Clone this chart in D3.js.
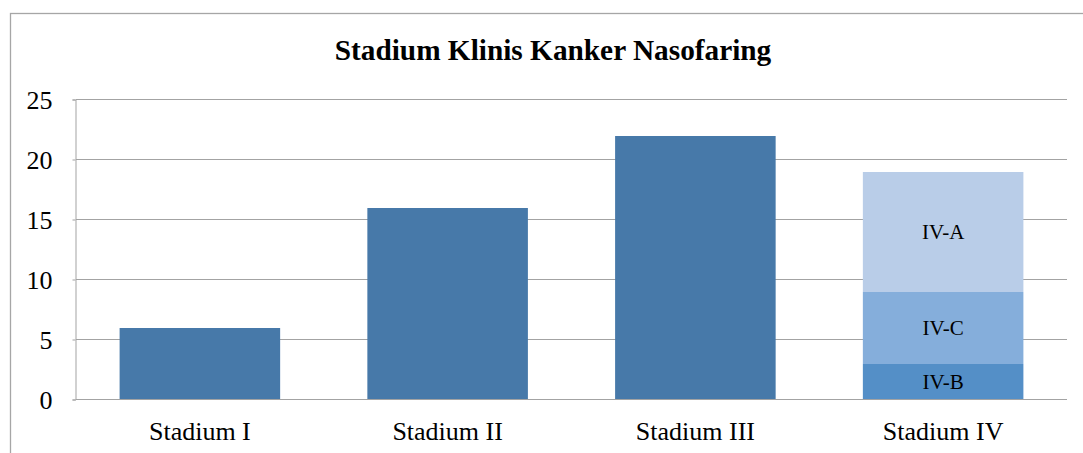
<!DOCTYPE html>
<html><head><meta charset="utf-8">
<script src="https://cdn.jsdelivr.net/npm/d3@7"></script>
<style>body{margin:0;background:#fff}svg{display:block}</style>
</head><body>
<script>
const categories = ["Stadium I", "Stadium II", "Stadium III", "Stadium IV"];
const totals = [6, 16, 22, null];
const subCategory = "Stadium IV";
const subLabels = ["IV-B", "IV-C", "IV-A"];
const subValues = [3, 6, 10];
const subColors = ["#548FC7", "#85AEDB", "#B9CDE8"];
const yTicks = [0, 5, 10, 15, 20, 25];
const title = "Stadium Klinis Kanker Nasofaring";

const W = 1083, H = 453;
const svg = d3.select("body").append("svg").attr("width", W).attr("height", H);
const font = "'Liberation Serif','Times New Roman',serif";

svg.append("rect").attr("x", 10.5).attr("y", 13.5).attr("width", 1200).attr("height", 600)
  .attr("fill", "none").attr("stroke", "#A6A6A6").attr("stroke-width", 1.3);

const x = d3.scaleBand().domain(categories).range([76, 1067]).paddingInner(0.352).paddingOuter(0.176);
const y = d3.scaleLinear().domain([0, 25]).range([400, 100]);

// gridlines
svg.append("g").selectAll("line").data(yTicks.filter(d => d > 0)).join("line")
  .attr("x1", 76).attr("x2", 1067)
  .attr("y1", d => Math.round(y(d)) - 0.5).attr("y2", d => Math.round(y(d)) - 0.5)
  .attr("stroke", "#A3A3A3").attr("stroke-width", 1);

// bars
svg.append("g").selectAll("rect").data(categories.filter((c, i) => totals[i] != null)).join("rect")
  .attr("x", d => x(d)).attr("width", x.bandwidth())
  .attr("y", d => y(totals[categories.indexOf(d)]))
  .attr("height", d => y(0) - y(totals[categories.indexOf(d)]))
  .attr("fill", "#4779A9");

// stacked
let cum = 0;
const stackData = subValues.map((v, i) => { const s = { label: subLabels[i], y0: cum, y1: cum + v, color: subColors[i] }; cum += v; return s; });
const sg = svg.append("g");
sg.selectAll("rect").data(stackData).join("rect")
  .attr("x", x(subCategory)).attr("width", x.bandwidth())
  .attr("y", d => y(d.y1)).attr("height", d => y(d.y0) - y(d.y1))
  .attr("fill", d => d.color);
sg.selectAll("text").data(stackData).join("text")
  .attr("x", x(subCategory) + x.bandwidth() / 2)
  .attr("y", d => y((d.y0 + d.y1) / 2))
  .attr("dy", "0.35em").attr("text-anchor", "middle")
  .attr("font-family", font).attr("font-size", 21).attr("fill", "#000")
  .text(d => d.label);

// y axis
const ya = svg.append("g").attr("transform", "translate(75.5,-0.5)")
  .call(d3.axisLeft(y).tickValues(yTicks).tickSize(3).tickPadding(20));
ya.select(".domain").attr("stroke", "#A3A3A3");
ya.selectAll(".tick line").attr("stroke", "#A3A3A3");
ya.selectAll("text").attr("font-family", font).attr("font-size", 26).attr("fill", "#000").attr("dy", "0.34em");

// x axis
const xa = svg.append("g").attr("transform", "translate(0,399.5)")
  .call(d3.axisBottom(x).tickSize(0).tickPadding(22));
xa.select(".domain").attr("stroke", "#A3A3A3").attr("d", "M76,0H1067");
xa.selectAll("text").attr("font-family", font).attr("font-size", 26).attr("fill", "#000");

svg.append("text").attr("x", 553).attr("y", 60).attr("text-anchor", "middle")
  .attr("font-family", font).attr("font-weight", "bold").attr("font-size", 29.3)
  .text(title);
</script>
</body></html>
